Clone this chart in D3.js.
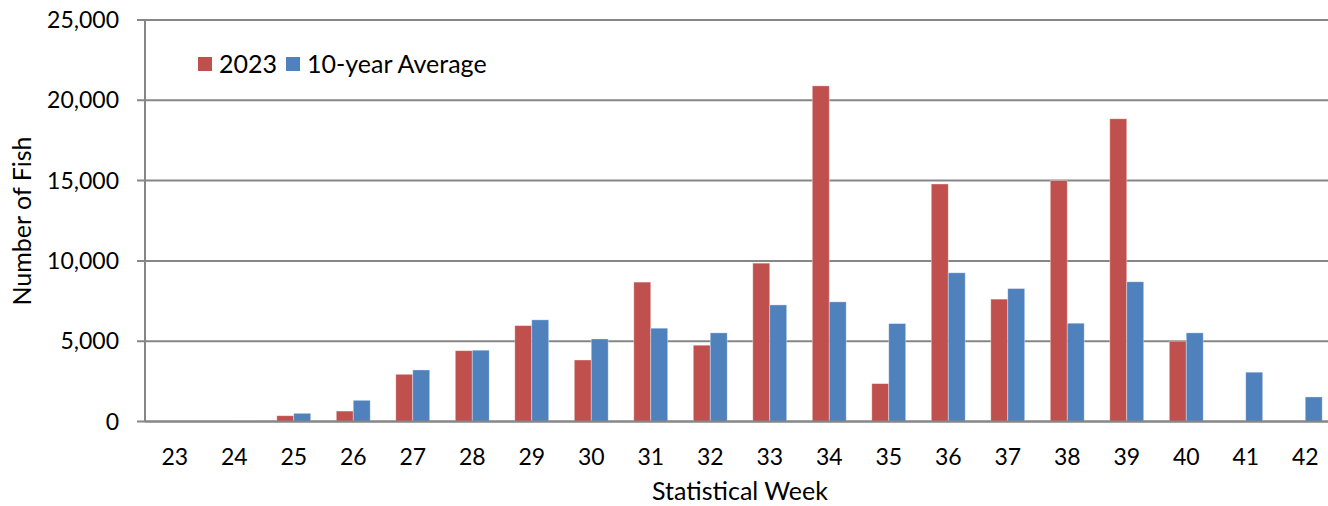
<!DOCTYPE html>
<html><head><meta charset="utf-8">
<script src="https://cdn.jsdelivr.net/npm/d3@7"></script>
<style>
html,body{margin:0;padding:0;background:#fff;}
text{font-family:Lato, "Open Sans", sans-serif;fill:#000;}
</style></head>
<body><svg id="c" width="1328" height="506"></svg>
<script>
const weeks = ["23","24","25","26","27","28","29","30","31","32","33","34","35","36","37","38","39","40","41","42"];
const values2023 = [0,0,360,650,2940,4410,5970,3830,8680,4750,9860,20900,2360,14790,7620,15000,18850,5000,0,0];
const valuesAvg = [0,40,510,1320,3210,4440,6330,5140,5810,5520,7260,7450,6100,9260,8280,6120,8700,5520,3070,1530];
const seriesNames = ["2023","10-year Average"];
const seriesColors = ["#C0504D","#4F81BD"];
const yTicks = [0,5000,10000,15000,20000,25000];

const svg = d3.select("#c");
const m = {left:145, right:1335, top:20, bottom:421.5};
const x0 = d3.scaleBand().domain(weeks).range([m.left, m.right]).paddingInner(0.43).paddingOuter(0.215);
const x1 = d3.scaleBand().domain(seriesNames).range([0, x0.bandwidth()]).padding(0);
const y = d3.scaleLinear().domain([0,25000]).range([m.bottom, m.top]);

// gridlines
const grid = svg.append("g");
grid.selectAll("line").data(yTicks).join("line")
  .attr("x1", m.left-8).attr("x2", m.right)
  .attr("y1", d=>y(d)).attr("y2", d=>y(d))
  .attr("stroke", "#868686").attr("stroke-width", 2);

// y axis line
svg.append("line").attr("x1", m.left).attr("x2", m.left).attr("y1", m.top).attr("y2", m.bottom)
  .attr("stroke", "#868686").attr("stroke-width", 2);

// y tick labels
const fmt = d3.format(",");
svg.append("g").selectAll("text").data(yTicks).join("text")
  .attr("x", 119).attr("y", d=>y(d)).attr("dy", "0.35em")
  .attr("text-anchor", "end").attr("font-size", 23).text(d=>fmt(d));

// bars
const data = weeks.map((w,i)=>({week:w, vals:[values2023[i], valuesAvg[i]]}));
const groups = svg.append("g").selectAll("g").data(data).join("g")
  .attr("transform", d=>`translate(${x0(d.week)},0)`);
groups.selectAll("rect").data(d=>d.vals.map((v,j)=>({v, s:seriesNames[j], c:seriesColors[j]})))
  .join("rect")
  .attr("x", d=>x1(d.s)).attr("width", x1.bandwidth())
  .attr("y", d=>y(d.v)).attr("height", d=>m.bottom - y(d.v))
  .attr("fill", d=>d.c)
  .attr("stroke", "rgba(255,255,255,0.45)").attr("stroke-width", 0.8);

// x axis line (redraw over bars)
svg.append("line").attr("x1", m.left).attr("x2", m.right).attr("y1", y(0)).attr("y2", y(0))
  .attr("stroke", "#868686").attr("stroke-width", 2);

// x tick labels
svg.append("g").selectAll("text").data(weeks).join("text")
  .attr("x", d=>x0(d)+x0.bandwidth()/2).attr("y", 457).attr("dy", "0.35em")
  .attr("text-anchor", "middle").attr("font-size", 23).text(d=>d);

// axis titles
svg.append("text").attr("x", 740).attr("y", 500).attr("text-anchor", "middle")
  .attr("font-size", 25).text("Statistical Week");
svg.append("text").attr("transform", "translate(31,221) rotate(-90)").attr("text-anchor", "middle")
  .attr("font-size", 25).text("Number of Fish");

// legend
const lg = svg.append("g");
const legX = [198, 286];
seriesNames.forEach((s,i)=>{
  lg.append("rect").attr("x", legX[i]).attr("y", 57).attr("width", 14).attr("height", 14).attr("fill", seriesColors[i]);
  lg.append("text").attr("x", legX[i]+21).attr("y", 64).attr("dy", "0.35em").attr("font-size", 25).text(s);
});
</script></body></html>
